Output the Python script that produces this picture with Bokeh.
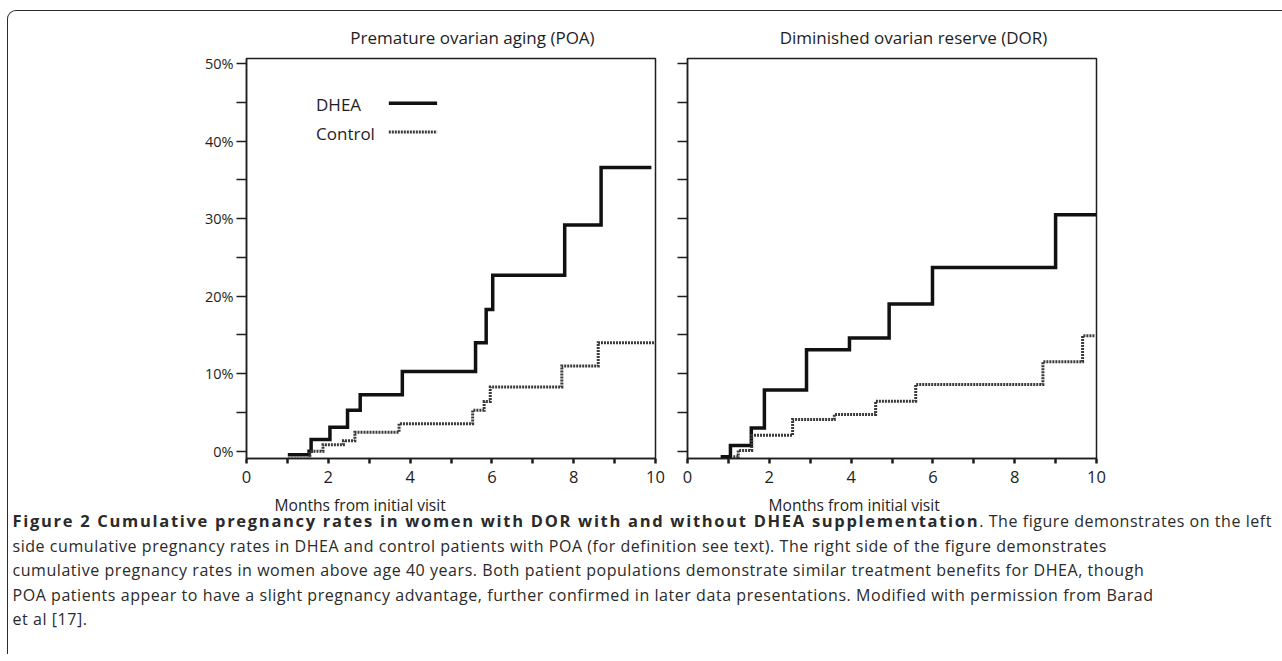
from bokeh.plotting import figure
from bokeh.models import FixedTicker, Label, Div, Range1d, PrintfTickFormatter, Title
from bokeh.layouts import column, row
from bokeh.embed import file_html
from bokeh.resources import INLINE

# ---------------- data (months, cumulative pregnancy %) ----------------
poa_dhea_x = [1.01, 1.53, 1.58, 2.04, 2.47, 2.78, 3.81, 5.60, 5.86, 6.02, 7.78, 8.67, 9.90]
poa_dhea_y = [-0.45, 0.0, 1.5, 3.1, 5.3, 7.3, 10.3, 14.0, 18.3, 22.7, 29.2, 36.6, 36.6]

poa_ctrl_x = [1.02, 1.55, 1.87, 2.37, 2.65, 3.73, 5.53, 5.81, 5.96, 7.71, 8.60, 10.0]
poa_ctrl_y = [-1.0, 0.0, 0.85, 1.35, 2.45, 3.55, 5.3, 6.4, 8.3, 11.0, 14.0, 14.0]

dor_dhea_x = [0.81, 1.05, 1.56, 1.88, 2.91, 3.96, 4.93, 5.99, 9.0, 10.0]
dor_dhea_y = [-0.7, 0.75, 3.0, 7.9, 13.1, 14.6, 19.0, 23.7, 30.5, 30.5]

dor_ctrl_x = [1.12, 1.24, 1.57, 2.57, 3.59, 4.60, 5.58, 8.69, 9.66, 9.96]
dor_ctrl_y = [-0.7, 0.1, 2.05, 4.1, 4.75, 6.45, 8.6, 11.55, 14.9, 14.9]

x_major = [0, 2, 4, 6, 8, 10]
x_minor = [1, 3, 5, 7, 9]
y_major = [0, 10, 20, 30, 40, 50]
y_minor = [5, 15, 25, 35, 45]

series_names = ["DHEA", "Control"]
panel_titles = ["Premature ovarian aging (POA)", "Diminished ovarian reserve (DOR)"]
x_label = "Months from initial visit"

caption_bold = "Figure 2 Cumulative pregnancy rates in women with DOR with and without DHEA supplementation"
caption_lines = [
    ". The figure demonstrates on the left",
    "side cumulative pregnancy rates in DHEA and control patients with POA (for definition see text). The right side of the figure demonstrates",
    "cumulative pregnancy rates in women above age 40 years. Both patient populations demonstrate similar treatment benefits for DHEA, though",
    "POA patients appear to have a slight pregnancy advantage, further confirmed in later data presentations. Modified with permission from Barad",
    "et al [17].",
]

FONT = "Open Sans"
INK = "#1e1e1e"


def title_div(text, width, height, cx, cy, size):
    html = ('<div style="position:relative; width:%dpx; height:%dpx">'
            '<span style="position:absolute; left:%.1fpx; top:%.1fpx; '
            'transform:translate(-50%%,-50%%); white-space:nowrap; '
            'font-family:\'Open Sans\'; font-size:%s; color:%s; line-height:1">%s</span></div>'
            % (width, height, cx, cy, size, INK, text))
    return Div(text=html, width=width, height=height, margin=0)


def make_panel(dhea_x, dhea_y, ctrl_x, ctrl_y, left_border, right_border,
               xlabel_offset, show_ylabels, legend):
    p = figure(frame_width=409, frame_height=400,
               min_border_left=left_border, min_border_right=right_border,
               min_border_top=5, min_border_bottom=70,
               x_range=Range1d(0, 10), y_range=Range1d(-0.94, 50.67),
               output_backend="svg", toolbar_location=None)
    p.xgrid.visible = False
    p.ygrid.visible = False
    p.background_fill_color = "white"
    p.border_fill_color = "white"
    p.outline_line_color = INK
    p.outline_line_width = 1.5

    p.add_layout(Title(text=x_label, align="left", offset=xlabel_offset,
                       text_font=FONT, text_font_size="15.6px",
                       text_font_style="normal", text_color=INK, standoff=13), "below")

    xa = p.xaxis[0]
    xa.ticker = FixedTicker(ticks=x_major, minor_ticks=x_minor)
    xa.major_tick_in = 0
    xa.major_tick_out = 5
    xa.minor_tick_in = 0
    xa.minor_tick_out = 5
    xa.major_tick_line_width = 2.5
    xa.minor_tick_line_width = 2.5
    xa.major_tick_line_color = INK
    xa.minor_tick_line_color = INK
    xa.axis_line_color = INK
    xa.axis_line_width = 1.5
    xa.major_label_text_font = FONT
    xa.major_label_text_font_size = "16.5px"
    xa.major_label_text_color = INK
    xa.major_label_standoff = 7

    ya = p.yaxis[0]
    ya.ticker = FixedTicker(ticks=y_major, minor_ticks=y_minor)
    ya.major_tick_in = 0
    ya.major_tick_out = 10
    ya.minor_tick_in = 0
    ya.minor_tick_out = 10
    ya.major_tick_line_width = 1.5
    ya.minor_tick_line_width = 1.5
    ya.major_tick_line_color = INK
    ya.minor_tick_line_color = INK
    ya.axis_line_color = INK
    ya.axis_line_width = 1.5
    ya.major_label_text_font = FONT
    ya.major_label_text_font_size = "14.5px"
    ya.major_label_text_color = INK
    ya.major_label_standoff = 3
    if show_ylabels:
        ya.formatter = PrintfTickFormatter(format="%d%%")
    else:
        ya.major_label_overrides = {t: "" for t in y_major}

    p.step(dhea_x, dhea_y, mode="after", line_color="#111111", line_width=3.5,
           line_join="miter", line_cap="butt")
    p.step(ctrl_x, ctrl_y, mode="after", line_color="#3a3a3a", line_width=3,
           line_dash="2 1", line_join="miter", line_cap="butt")

    if legend:
        # legend: text first, then the line sample (as in the original)
        lx_text, lx0, lx1 = 1.70, 3.48, 4.66
        ly = [44.7, 41.0]
        for name, yy, dash, lw, col in zip(series_names, ly, ["solid", "2 1"], [3.5, 3], ["#111111", "#3a3a3a"]):
            p.add_layout(Label(x=lx_text, y=yy, text=name, text_font=FONT,
                               text_font_size="17px", text_color=INK,
                               text_baseline="middle", text_align="left"))
            p.segment(x0=[lx0], y0=[yy + 0.2], x1=[lx1], y1=[yy + 0.2],
                      line_color=col, line_width=lw, line_dash=dash, line_cap="butt")
    return p


LW, RW = 663, 610
left = make_panel(poa_dhea_x, poa_dhea_y, poa_ctrl_x, poa_ctrl_y,
                  left_border=238, right_border=16, xlabel_offset=28,
                  show_ylabels=True, legend=True)
right = make_panel(dor_dhea_x, dor_dhea_y, dor_ctrl_x, dor_ctrl_y,
                   left_border=16, right_border=186, xlabel_offset=81,
                   show_ylabels=False, legend=False)

left_col = column(title_div(panel_titles[0], LW, 42, 464.5, 25.5, "17px"), left)
right_col = column(title_div(panel_titles[1], RW, 42, 242.5, 25.5, "17px"), right)

html_caption = (
    '<div style="font-family:\'Open Sans\'; font-size:16px; letter-spacing:0.55px; '
    'line-height:24.6px; color:#2a2a2a; white-space:nowrap; position:relative; '
    'top:-19px; padding-left:4.5px; margin:0">'
    '<b style="font-size:16.5px; letter-spacing:1.7px">' + caption_bold + '</b>'
    + "<br>".join(caption_lines) + '</div>'
)
caption = Div(text=html_caption, width=LW + RW, height=126, margin=0)

layout = column(row(left_col, right_col), caption,
                styles={"border-top": "1.5px solid #2b2b2b",
                        "border-left": "1.5px solid #2b2b2b",
                        "border-top-left-radius": "9px",
                        "margin-top": "10px",
                        "margin-left": "7px"})

open("out.html", "w").write(file_html(layout, INLINE))
